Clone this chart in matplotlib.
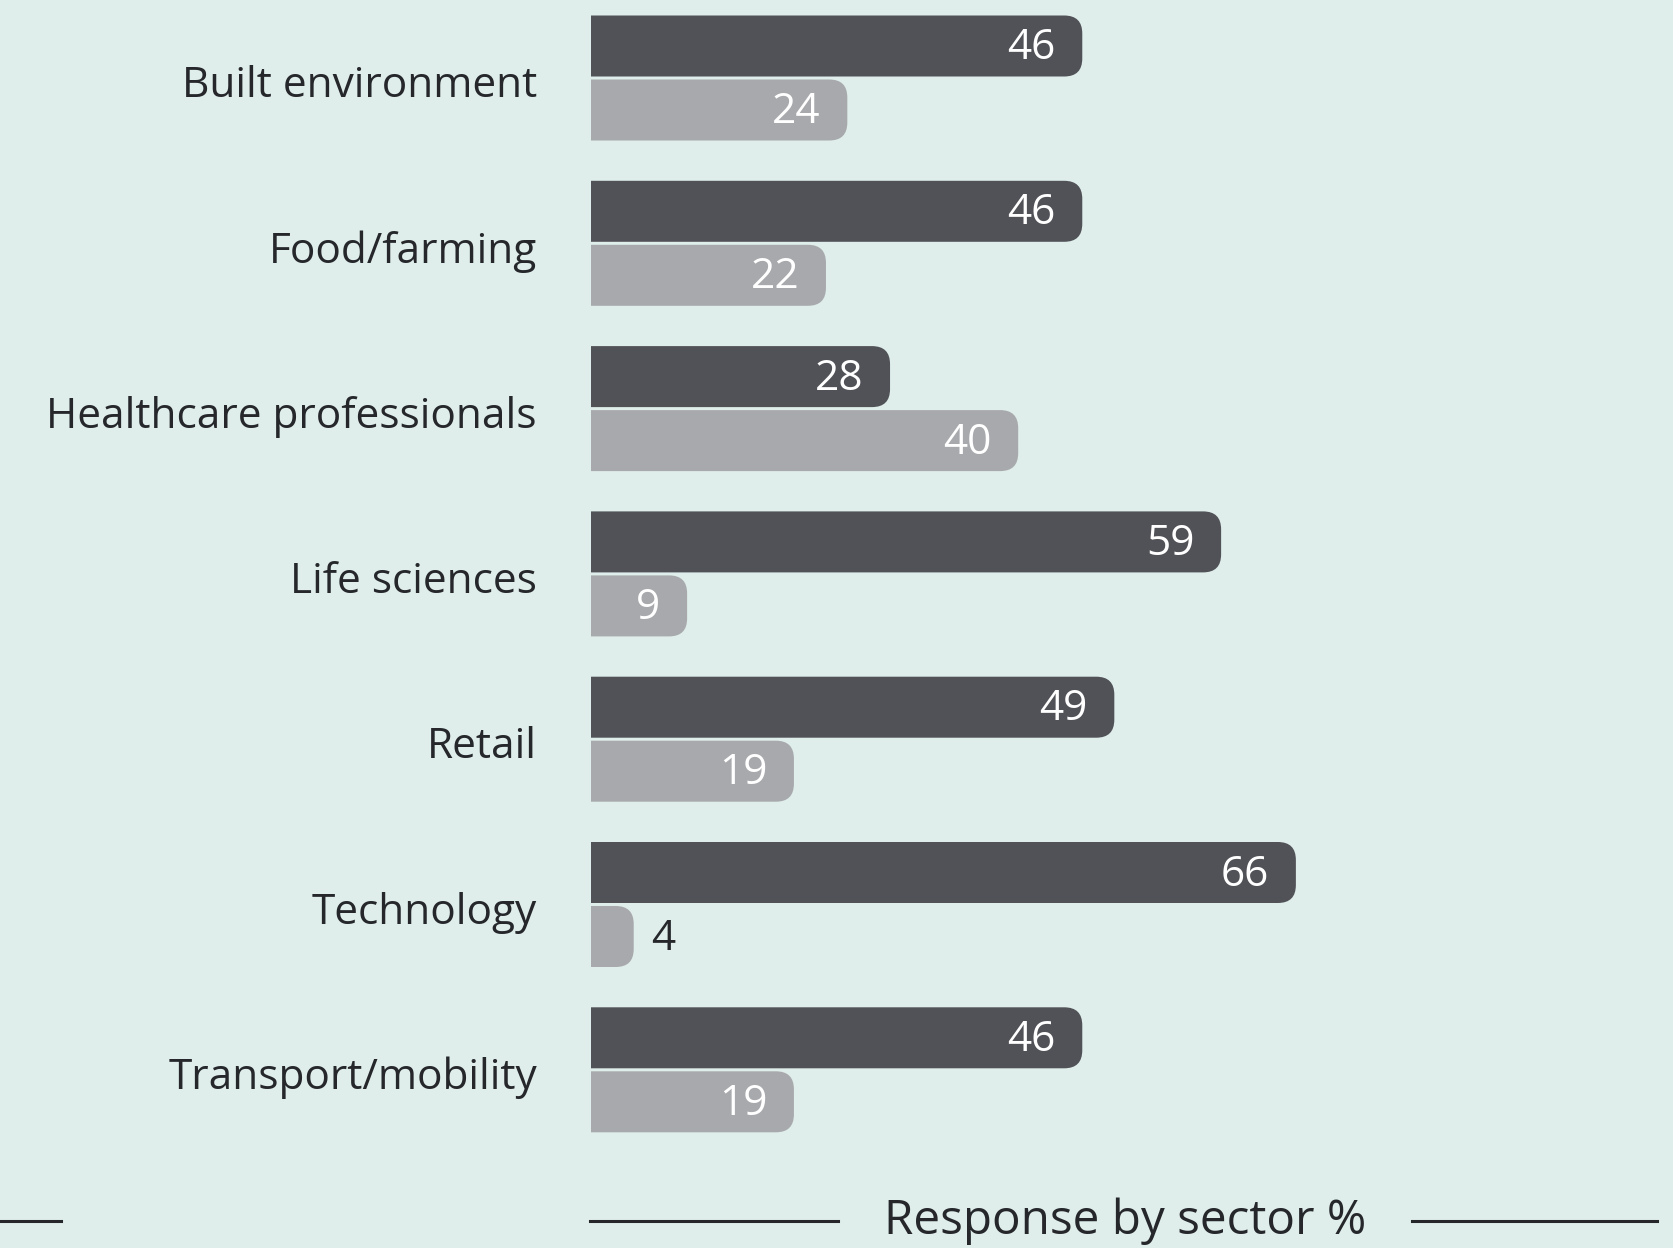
import numpy as np
import matplotlib.pyplot as plt
from matplotlib.patches import FancyBboxPatch

plt.rcParams['font.family'] = ['Open Sans', 'DejaVu Sans']

sectors = ['Built environment', 'Food/farming', 'Healthcare professionals',
           'Life sciences', 'Retail', 'Technology', 'Transport/mobility']
dark_vals = [46, 46, 28, 59, 49, 66, 46]
light_vals = [24, 22, 40, 9, 19, 4, 19]
axis_title = 'Response by sector %'

bg = '#dfeeea'
dark = '#515257'
light = '#a8a9ac'
txt = '#25272b'

W, H = 1674, 1248
fig = plt.figure(figsize=(W / 100, H / 100), dpi=100, facecolor=bg)

# axes: x in value units starting where bars begin, y in group units
x0_px, px_per_unit = 591, 10.68
pitch, c0 = 165.3, 78
ax = fig.add_axes([x0_px / W, 0, 1 - x0_px / W, 1])
ax.set_facecolor(bg)
ax.set_xlim(0, (W - x0_px) / px_per_unit)
ax.set_ylim((H - c0) / pitch, -c0 / pitch)
ax.axis('off')

bar_h = 61 / pitch
off = 32 / pitch
aspect = px_per_unit / pitch
rad = 18 / px_per_unit
lab_dy = 2 / pitch


def rbar(y, v, color):
    # start left of the axes so the left corners get clipped square
    p = FancyBboxPatch((-5, y - bar_h / 2), v + 5, bar_h,
                       boxstyle=f'round,pad=0,rounding_size={rad}',
                       mutation_aspect=aspect, fc=color, ec='none')
    ax.add_patch(p)
    p.set_clip_path(ax.patch)


for i, (s, dv, lv) in enumerate(zip(sectors, dark_vals, light_vals)):
    rbar(i - off, dv, dark)
    rbar(i + off, lv, light)
    ax.text(dv - 2.5, i - off + lab_dy, str(dv), ha='right', va='center',
            color='white', fontsize=30.5)
    if lv >= 8:
        ax.text(lv - 2.5, i + off + lab_dy, str(lv), ha='right', va='center',
                color='white', fontsize=30.5)
    else:
        ax.text(lv + 1.6, i + off + lab_dy, str(lv), ha='left', va='center',
                color=txt, fontsize=30.5)
    fig.text(537 / W, 1 - (c0 + 8 + pitch * i) / H, s, ha='right', va='center',
             color=txt, fontsize=30.5)

# bottom axis caption with rules
yl = 1 - 1221 / H
for a, b in [(0, 61), (590, 838), (1412, 1657)]:
    fig.add_artist(plt.Line2D([a / W, b / W], [yl, yl], color=txt, lw=2.2))
fig.text(1125 / W, yl, axis_title, ha='center', va='center',
         color=txt, fontsize=34.3)

fig.savefig('out.png', dpi=100, facecolor=bg)
